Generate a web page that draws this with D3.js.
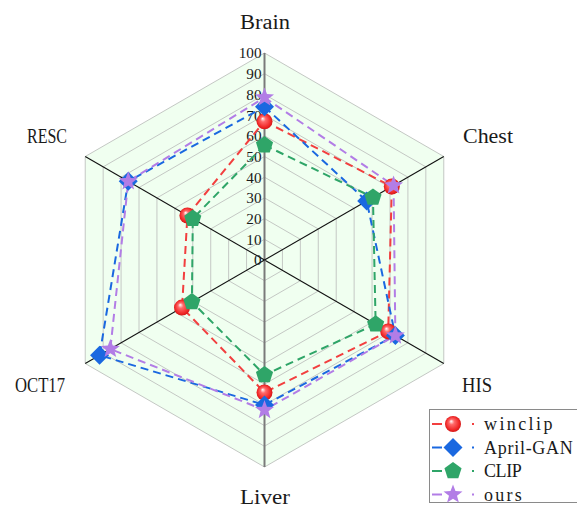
<!DOCTYPE html>
<html>
<head>
<meta charset="utf-8">
<script src="https://cdn.jsdelivr.net/npm/d3@7"></script>
<style>
  html, body { margin: 0; padding: 0; background: #fff; overflow: hidden; }
  svg { display: block; }
  text { font-family: "Liberation Serif", "DejaVu Serif", serif; fill: #1a1a1a; }
</style>
</head>
<body>
<svg id="chart" width="577" height="508"></svg>
<script>
// Radar chart data
const axes = ["Brain", "Chest", "HIS", "Liver", "OCT17", "RESC"];
const ticks = [0, 10, 20, 30, 40, 50, 60, 70, 80, 90, 100];
const seriesNames = ["winclip", "April-GAN", "CLIP", "ours"];
const winclip  = [67, 71, 69, 64, 46, 43];
const aprilGan = [74, 57, 73, 70, 92, 76];
const clip     = [55.5, 60.5, 62, 55.5, 40.5, 40];
const ours     = [78.5, 72, 73, 72.5, 86, 76];

const seriesValues = [winclip, aprilGan, clip, ours];
const colors = ["#f23f3f", "#1a68e0", "#2fa568", "#b27de6"];
const shapes = ["circle", "diamond", "pentagon", "star"];

const svg = d3.select("#chart");
const cx = 264.5, cy = 260, R = 207;

const r = d3.scaleLinear().domain([0, 100]).range([0, R]);
const angle = d3.scalePoint().domain(axes).range([-90, 210]); // degrees, Brain at top
const pt = (axis, v) => {
  const a = angle(axis) * Math.PI / 180;
  return [cx + r(v) * Math.cos(a), cy + r(v) * Math.sin(a)];
};

const defs = svg.append("defs");
const grad = defs.append("radialGradient").attr("id", "ballRed")
  .attr("cx", "0.5").attr("cy", "0.5").attr("r", "0.55")
  .attr("fx", "0.38").attr("fy", "0.32");
grad.append("stop").attr("offset", "0").attr("stop-color", "#ffffff");
grad.append("stop").attr("offset", "0.3").attr("stop-color", "#ff6a6a");
grad.append("stop").attr("offset", "0.75").attr("stop-color", "#f02828");
grad.append("stop").attr("offset", "1").attr("stop-color", "#c81010");

const g = svg.append("g");

// Outer hexagon background
const ringPath = v => "M" + axes.map(a => pt(a, v).join(",")).join("L") + "Z";
g.append("path").attr("d", ringPath(100)).attr("fill", "#f0fff0").attr("stroke", "none");

// Concentric rings
g.selectAll("path.ring").data(ticks.filter(t => t > 0)).join("path")
  .attr("class", "ring")
  .attr("d", d => ringPath(d))
  .attr("fill", "none")
  .attr("stroke", "#c4c8c4")
  .attr("stroke-width", 1);

// Spokes
axes.forEach(a => {
  const p = pt(a, 100);
  const vertical = (a === "Brain" || a === "Liver");
  g.append("line")
    .attr("x1", cx).attr("y1", cy).attr("x2", p[0]).attr("y2", p[1])
    .attr("stroke", vertical ? "#7a7a7a" : "#111")
    .attr("stroke-width", vertical ? 2 : 1.1);
});

// Radial tick labels
g.selectAll("text.tick").data(ticks).join("text")
  .attr("class", "tick")
  .attr("x", cx - 3)
  .attr("y", d => cy - r(d))
  .attr("dy", "0.36em")
  .attr("text-anchor", "end")
  .attr("font-size", 15)
  .attr("textLength", d => String(d).length * 7.6)
  .attr("lengthAdjust", "spacingAndGlyphs")
  .text(d => d);

// Axis labels
const labelPos = {
  Brain: [265, 29], Chest: [488, 143], HIS: [477, 392],
  Liver: [265, 504], OCT17: [40, 392], RESC: [47, 143]
};
g.selectAll("text.axis").data(axes).join("text")
  .attr("class", "axis")
  .attr("x", d => labelPos[d][0])
  .attr("y", d => labelPos[d][1])
  .attr("text-anchor", "middle")
  .attr("font-size", 20)
  .attr("textLength", d => d.length * 10)
  .attr("lengthAdjust", "spacingAndGlyphs")
  .text(d => d);

// Marker shapes
function drawMarker(sel, shape, color, x, y) {
  if (shape === "circle") {
    sel.append("circle").attr("cx", x).attr("cy", y).attr("r", 8)
      .attr("fill", "url(#ballRed)");
  } else if (shape === "diamond") {
    const s = 9.5;
    sel.append("path")
      .attr("d", `M${x},${y - s}L${x + s},${y}L${x},${y + s}L${x - s},${y}Z`)
      .attr("fill", color);
  } else if (shape === "pentagon") {
    const s = 9, pts = [];
    for (let i = 0; i < 5; i++) {
      const a = -Math.PI / 2 + i * 2 * Math.PI / 5;
      pts.push([x + s * Math.cos(a), y + s * Math.sin(a)]);
    }
    sel.append("path").attr("d", "M" + pts.map(p => p.join(",")).join("L") + "Z")
      .attr("fill", color);
  } else if (shape === "star") {
    const ro = 10, ri = 4.2, pts = [];
    for (let i = 0; i < 10; i++) {
      const a = -Math.PI / 2 + i * Math.PI / 5;
      const rr = i % 2 === 0 ? ro : ri;
      pts.push([x + rr * Math.cos(a), y + rr * Math.sin(a)]);
    }
    sel.append("path").attr("d", "M" + pts.map(p => p.join(",")).join("L") + "Z")
      .attr("fill", color);
  }
}

// Series polygons
const line = d3.line();
seriesValues.forEach((vals, i) => {
  const pts = axes.map((a, j) => pt(a, vals[j]));
  g.append("path")
    .attr("d", line(pts) + "Z")
    .attr("fill", "none")
    .attr("stroke", colors[i])
    .attr("stroke-width", 2)
    .attr("stroke-dasharray", "8,5");
});
seriesValues.forEach((vals, i) => {
  const mg = g.append("g");
  axes.forEach((a, j) => {
    const p = pt(a, vals[j]);
    drawMarker(mg, shapes[i], colors[i], p[0], p[1]);
  });
});

// Legend
const lg = svg.append("g");
lg.append("rect").attr("x", 429.5).attr("y", 409.5).attr("width", 160).attr("height", 93)
  .attr("fill", "#fff").attr("stroke", "#8a8a8a").attr("stroke-width", 1);
seriesNames.forEach((name, i) => {
  const y = 424 + i * 23.5;
  lg.append("line").attr("x1", 432).attr("x2", 442).attr("y1", y).attr("y2", y)
    .attr("stroke", colors[i]).attr("stroke-width", 2);
  lg.append("line").attr("x1", 472).attr("x2", 474).attr("y1", y).attr("y2", y)
    .attr("stroke", colors[i]).attr("stroke-width", 2);
  drawMarker(lg, shapes[i], colors[i], 453, y);
  lg.append("text").attr("x", 484).attr("y", y).attr("dy", "0.35em")
    .attr("font-size", 18)
    .attr("textLength", name.length * 10.2 - 3)
    .attr("lengthAdjust", "spacing")
    .text(name);
});
</script>
</body>
</html>
